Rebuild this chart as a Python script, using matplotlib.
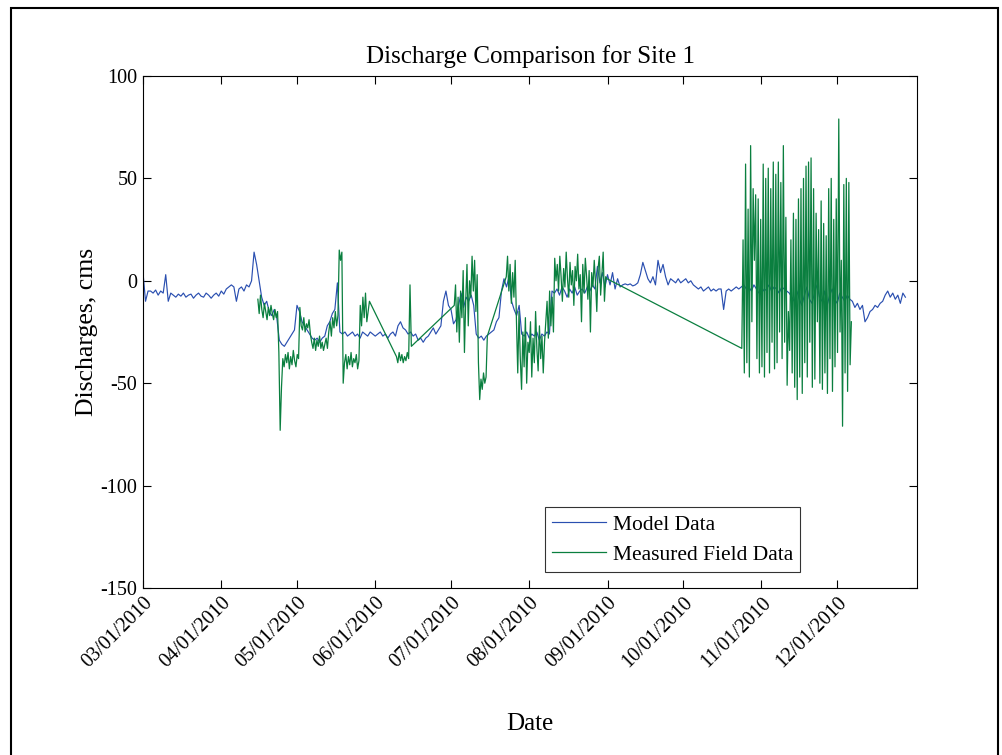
import numpy as np
import pandas as pd
import matplotlib
matplotlib.use("Agg")
import matplotlib.pyplot as plt
import matplotlib.dates as mdates
from matplotlib.patches import Rectangle

plt.rcParams['font.family'] = ['Liberation Serif', 'DejaVu Serif']
plt.rcParams['axes.unicode_minus'] = False

# Model data: one value per day starting 03/01/2010
start = pd.Timestamp("2010-03-01")
model_vals = [
    4, -10, -5,
    -5, -6, -4.5, -7, -5, -6,
    3, -10,
    -6, -7, -8, -6.5, -7.5, -6, -8, -7, -6.5, -8.5, -7, -6, -7.5, -8, -6, -7, -8.5, -7, -6, -7.5, -5, -6.5, -4, -3, -2,
    -3, -10,
    -4, -3, -5, -2, -3, 0,
    14, 8,
    0,
    -8, -12, -10, -15, -17, -14, -18,
    -29, -31, -32, -30,
    -28, -26, -24,
    -12, -15,
    -20, -22, -24, -26,
    -28, -29, -28, -30, -28, -27,
    -22, -20, -16, -14,
    -1,
    -25,
    -26, -25, -27, -26, -25, -27, -26, -28, -25, -26, -27, -25, -26, -27, -26, -25, -27, -26, -28, -26, -25, -27,
    -22, -20, -23,
    -24, -26, -25, -27, -26,
    -29, -28, -30, -28, -27,
    -25, -23, -26, -24, -22,
    -10, -5,
    -12, -14,
    -21, -19,
    -12, -6, -13, -8, -10, -7, -12,
    -26, -28, -27, -29, -27, -26,
    -25, -24, -20, -18,
    -5, 1, -3, 2,
    -10, -14, -17, -12,
    -26, -27, -25, -28, -26, -27, -25, -29, -26, -27, -25, -26,
    -5,
    -6, -4, -7, -3, -5, -8, -4, -6, -3, -7, -5, -4, -6, -3, -5, -2, -4,
    7, -1, 4, -3,
    3, -2, 4, -4, 1, -3, -2,
    -1.5, -2, -1.5, -2.5, -2, -1,
    3, 9, 5, 1,
    -1, 2, -2,
    10, 4, 8,
    2, -2, 1,
    0, -1, 1, -1, 0, 1, -1, 0,
    -2, -3, -4, -3, -5, -4, -3, -5, -4, -5, -4,
    -4, -14, -5, -4, -5, -4, -3, -4,
    -3, -2, -4, -3, -5, -2, -4, -6, -3, -5, -4, -2, -5, -3, -4, -6, -3, -4, -5,
    -6, -8, -10, -5, -9, -12, -7, -3, -9, -11, -6, -2, -8, -10, -5, -12, -7, -4, -9, -11, -6, -8, -10, -7, -9,
    -10, -13, -11, -14, -12, -20,
    -18, -15, -14, -12, -13, -11, -10,
    -7, -5, -8, -6,
    -9, -7, -11, -6, -8,
]

# Measured field data: recording periods (first day, last day after 03/01/2010) and readings
field_a_days = (45.5, 89.7)
field_a = [
    -9, -16, -7, -14, -18, -11, -15, -19, -13, -17, -12, -16, -19, -14, -18, -15,
    -35, -73, -52,
    -38, -42, -36, -40, -35, -43, -37, -41, -34, -39, -42, -36, -38,
    -13, -22,
    -24, -18, -25, -21, -23, -19, -26,
    -30, -33, -28, -34, -29, -32, -27, -33, -30, -34, -31, -28, -33,
    -25, -20, -27, -18, -23, -15, -22, -17,
    15, 10, 14, -50,
    -40, -36, -43, -37, -41, -35, -42, -38, -40, -36, -43, -39,
    -12, -22, -8, -18, -6, -20, -15, -10,
]
field_b_days = (100.4, 106.3)
field_b = [-37, -40, -35, -39, -36, -40, -37, -39, -35, -38, -2, -32]
field_c_days = (123.3, 136.4)
field_c = [-12, -2, -25, -8, -30, -5, -18, 5, -35, -10, 8, -22, 0, -8, 12, -5, 10,
           -15, 3, -40, -58, -48, -53, -45, -50, -47, -27]
field_d_days = (143.9, 183.8)
field_d = [
    2, 12, -5, 8, -11, 4, -8, 10,
    -20, -45, -15, -38, -53, -25, -42, -18, -50, -30,
    -35, -20, -47, -28, -40, -15, -33, -44, -22, -38, -27, -45, -30, -20,
    -10, -28, -5, -22, -8, -25,
    11, 0, 8, -5, 12, 2, -10, 6, -3, 14, 1, -8, 9, -2, 5, -12, 7, 0, 13, -4, 3,
    -20, 8, -6, 11, 2, -9, 5, -25, 4, -3, 10, -1, -15, 6, 12, -7, 3, 14, -10, 2, 1,
]
field_e_days = (237.2, 280.6)
field_e = [
    -33, 20, -45, 57, -40, 35, -47, 66, -20, 45, 10, 42, -38, 40, -45, 30, -42, 57,
    -47, 50, -35, 55, -45, 45, -30, 58, -43, 52, -40, 58, -25, 48, -38, 66, -30, 31,
    -51, -15, -34, 20, -45, 33, -52, 30, -58, 40, -47, 45, -55, 50, -40, 56, -47, 58,
    -30, 60, -52, 45, -48, 33, -20, 25, -50, 39, -53, 28, -45, 22, -55, 45, -38, 50,
    -54, 30, -42, 40, -35, 79, -25, 10, -71, 47, -45, 50, -54, 48, -41, -20,
]

tick_dates = pd.date_range("2010-03-01", "2010-12-01", freq="MS")
y_ticks = [-150, -100, -50, 0, 50, 100]

# Build time axes
model_t = start + pd.to_timedelta(np.arange(len(model_vals)), unit="D")
field_days = []
field_vals = []
for (d0, d1), vals in [(field_a_days, field_a), (field_b_days, field_b), (field_c_days, field_c),
                       (field_d_days, field_d), (field_e_days, field_e)]:
    field_days.append(np.linspace(d0, d1, len(vals)))
    field_vals.extend(vals)
field_t = start + pd.to_timedelta(np.concatenate(field_days), unit="D")

fig = plt.figure(figsize=(10.02, 7.55), dpi=100)
ax = fig.add_axes([143 / 1002, 167 / 755, 774 / 1002, 512 / 755])

ax.plot(model_t, model_vals, color="#2a4fb0", lw=0.85, label="Model Data")
ax.plot(field_t, field_vals, color="#0a7f3f", lw=0.9, label="Measured Field Data")

ax.set_xlim(start, start + pd.Timedelta(days=306.6))
ax.set_ylim(-150, 100)
ax.set_yticks(y_ticks)
ax.set_xticks(tick_dates)
ax.xaxis.set_major_formatter(mdates.DateFormatter("%m/%d/%Y"))
ax.tick_params(direction="in", top=True, right=True, length=6, width=0.8,
               labelsize=14.5, pad=4)
for lab in ax.get_xticklabels():
    lab.set_rotation(45)
    lab.set_ha("right")
    lab.set_va("top")
    lab.set_rotation_mode("anchor")
for sp in ax.spines.values():
    sp.set_linewidth(0.8)

ax.set_title("Discharge Comparison for Site 1", fontsize=18, pad=9)
ax.set_ylabel("Discharges, cms", fontsize=18.5)
ax.yaxis.set_label_coords(-0.058, 0.5)
ax.set_xlabel("Date", fontsize=18)
ax.xaxis.set_label_coords(0.5, -0.244)

leg = ax.legend(loc="lower left", bbox_to_anchor=(0.519, 0.031), borderaxespad=0,
                fontsize=15.5, frameon=True, fancybox=False, handlelength=2.5,
                handletextpad=0.3, labelspacing=0.45, borderpad=0.35)
leg.get_frame().set_edgecolor("black")
leg.get_frame().set_linewidth(0.8)

# outer frame of the exported figure
fig.add_artist(Rectangle((11 / 1002, -0.05), 987 / 1002, 1.05 - 8 / 755,
                         transform=fig.transFigure, fill=False, lw=1.5,
                         edgecolor="black", clip_on=False))

fig.savefig("out.png", dpi=100)
